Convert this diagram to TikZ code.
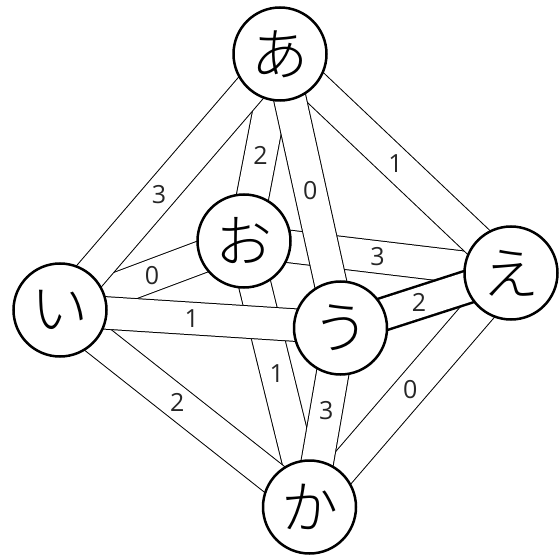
\documentclass[tikz,border=0pt]{standalone}
\usepackage{fontspec}
\setmainfont{Open Sans}
\newfontfamily\cjk{Noto Sans CJK JP Light}
\pgfdeclarelayer{bg}
\pgfsetlayers{bg,main}
\tikzset{
  kana/.style={circle, draw=black, line width=2.5pt, fill=white, minimum size=93pt, inner sep=0pt, font=\cjk\fontsize{57}{57}\selectfont},
  band/.style={draw=black, line width=1pt, double=white, double distance=31.5pt},
  boldband/.style={draw=black, line width=2.5pt, double=white, double distance=30pt},
  num/.style={font=\fontsize{25}{25}\selectfont, text=black!85, inner sep=0pt}
}
\begin{document}
\begin{tikzpicture}[x=1pt,y=-1pt]
\useasboundingbox (0,0) rectangle (559,556);
\node[kana] (a) at (280,54) {あ};
\node[kana] (i) at (60,310) {い};
\node[kana] (o) at (244,241) {お};
\node[kana] (u) at (340.5,328) {う};
\node[kana] (e) at (511,273) {え};
\node[kana] (k) at (309.5,507) {か};
\begin{pgfonlayer}{bg}
\draw[band] (a.center) -- node[num, pos=0.54] {2} (o.center);
\draw[band] (i.center) -- node[num, pos=0.5] {0} (o.center);
\draw[band] (o.center) -- node[num, pos=0.5] {3} (e.center);
\draw[band] (o.center) -- node[num, pos=0.5] {1} (k.center);
\draw[band] (a.center) -- node[num, pos=0.55] {3} (i.center);
\draw[band] (a.center) -- node[num, pos=0.5] {1} (e.center);
\draw[band] (i.center) -- node[num, pos=0.47] {2} (k.center);
\draw[band] (e.center) -- node[num, pos=0.5] {0} (k.center);
\draw[band] (a.center) -- node[num, pos=0.5] {0} (u.center);
\draw[band] (i.center) -- node[num, pos=0.47] {1} (u.center);
\draw[band] (u.center) -- node[num, pos=0.46] {3} (k.center);
\draw[boldband] (u.center) -- node[num, pos=0.46] {2} (e.center);
\end{pgfonlayer}
\end{tikzpicture}
\end{document}
